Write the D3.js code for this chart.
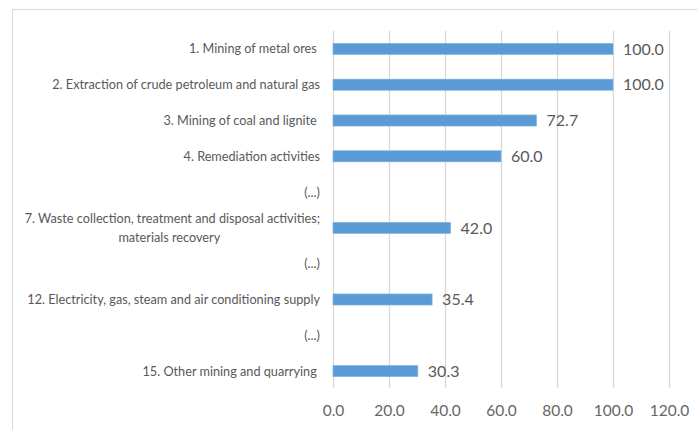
<!DOCTYPE html>
<html>
<head>
<meta charset="utf-8">
<script src="https://cdn.jsdelivr.net/npm/d3@7"></script>
<style>
html,body{margin:0;padding:0;background:#fff;}
svg{display:block;}
text{white-space:pre;}
</style>
</head>
<body>
<svg id="chart" width="697" height="430"></svg>
<script>
const categories = [
  "1. Mining of metal ores ",
  "2. Extraction of crude petroleum and natural gas",
  "3. Mining of coal and lignite ",
  "4. Remediation activities",
  "(...)",
  "7. Waste collection, treatment and disposal activities;|materials recovery",
  "(...)",
  "12. Electricity, gas, steam and air conditioning supply",
  "(...)",
  "15. Other mining and quarrying "
];
const values = [100.0, 100.0, 72.7, 60.0, null, 42.0, null, 35.4, null, 30.3];
const tickValues = [0, 20, 40, 60, 80, 100, 120];

const svg = d3.select("#chart");
const font = "Lato, 'Open Sans', sans-serif";
const grey = "#595959";
const catSize = 12.7;

// chart border
svg.append("rect").attr("x", 12.5).attr("y", 9.5).attr("width", 700).attr("height", 440)
  .attr("fill", "#fff").attr("stroke", "#d9d9d9").attr("stroke-width", 1);

const x = d3.scaleLinear().domain([0, 120]).range([333, 669]);
const y = d3.scaleBand().domain(d3.range(categories.length)).range([31, 389]).paddingInner(0.69).paddingOuter(0.345);

// gridlines
svg.append("g").selectAll("line").data(tickValues).join("line")
  .attr("x1", d => Math.round(x(d)) + 0.5).attr("x2", d => Math.round(x(d)) + 0.5)
  .attr("y1", 31).attr("y2", 388)
  .attr("stroke", "#d9d9d9").attr("stroke-width", 1.3);

// x axis tick labels
const xAxis = d3.axisBottom(x).tickValues(tickValues).tickFormat(d3.format(".1f")).tickSize(0).tickPadding(0);
const gx = svg.append("g").attr("transform", "translate(0,405)").call(xAxis);
gx.select(".domain").remove();
gx.selectAll("text").attr("font-family", font).attr("font-size", 15.5).attr("fill", "#666").attr("dy", "0.71em");

// bars
const data = categories.map((c, i) => ({i, c, v: values[i]})).filter(d => d.v !== null);
svg.append("g").selectAll("rect").data(data).join("rect")
  .attr("x", x(0)).attr("y", d => y(d.i))
  .attr("width", d => x(d.v) - x(0)).attr("height", y.bandwidth())
  .attr("fill", "#5b9bd5").attr("stroke", "#7eb2e0").attr("stroke-width", 0.6);

// value labels
svg.append("g").selectAll("text").data(data).join("text")
  .attr("x", d => x(d.v) + 10).attr("y", d => y(d.i) + y.bandwidth() / 2)
  .attr("dy", "0.36em")
  .attr("font-family", font).attr("font-size", 16).attr("fill", grey)
  .text(d => d.v.toFixed(1));

// category labels
const lg = svg.append("g");
categories.forEach((c, i) => {
  const cy = y(i) + y.bandwidth() / 2;
  const lines = c.split("|");
  if (lines.length === 1) {
    lg.append("text").attr("x", 320).attr("y", cy).attr("dy", "0.35em")
      .attr("text-anchor", "end").attr("font-family", font).attr("font-size", catSize).attr("fill", grey)
      .text(c);
  } else {
    const t1 = lg.append("text").attr("x", 320).attr("y", cy - 9).attr("dy", "0.35em")
      .attr("text-anchor", "end").attr("font-family", font).attr("font-size", catSize).attr("fill", grey)
      .text(lines[0]);
    const w = t1.node().getComputedTextLength();
    lg.append("text").attr("x", 320 - w / 2 - 3).attr("y", cy + 10).attr("dy", "0.35em")
      .attr("text-anchor", "middle").attr("font-family", font).attr("font-size", catSize).attr("fill", grey)
      .text(lines[1]);
  }
});
</script>
</body>
</html>
